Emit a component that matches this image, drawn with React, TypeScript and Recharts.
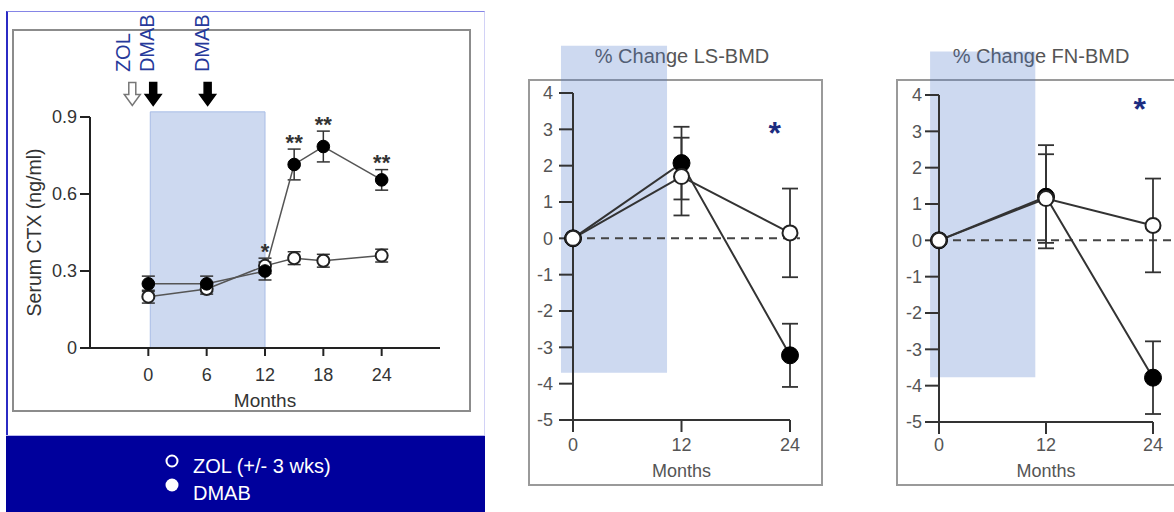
import React from 'react';
import {
  ComposedChart,
  Line,
  Scatter,
  XAxis,
  YAxis,
  ErrorBar,
  ReferenceArea,
  ReferenceLine,
  ReferenceDot,
  Legend,
  Label,
} from 'recharts';

const FONT = '"Liberation Sans", Arial, Helvetica, sans-serif';

// left panel: serum CTX (ng/ml) by month
const ctxMonths = [0, 6, 12, 15, 18, 24];
const ctxZol = [0.2, 0.23, 0.32, 0.35, 0.34, 0.36];
const ctxZolErr = [0.025, 0.02, 0.03, 0.025, 0.025, 0.025];
const ctxDmab = [0.25, 0.25, 0.3, 0.715, 0.785, 0.655];
const ctxDmabErr = [0.03, 0.03, 0.035, 0.06, 0.06, 0.04];
const ctxSig = ['', '', '*', '**', '**', '**'];
const ctxMonthTicks = [0, 6, 12, 18, 24];
const ctxValueTicks = [0, 0.3, 0.6, 0.9];

// dosing arrows above the left panel
const doseMonths = [-1.65, 0.5, 6.1];
const doseOpen = [true, false, false];
const doseLabels = ['ZOL', 'DMAB', 'DMAB'];
const doseLabelMonths = [-2.6, -0.2, 5.5];

const seriesNames = ['ZOL (+/- 3 wks)', 'DMAB'];

// right panels: % change in BMD
const bmdMonths = [0, 12, 24];
const bmdMonthTicks = [0, 12, 24];
const bmdValueTicks = [-5, -4, -3, -2, -1, 0, 1, 2, 3, 4];
const lsZol = [0, 1.7, 0.15];
const lsZolErr = [0, 1.07, 1.22];
const lsDmab = [0, 2.07, -3.22];
const lsDmabErr = [0, 1.0, 0.87];
const fnZol = [0, 1.15, 0.41];
const fnZolErr = [0, 1.22, 1.29];
const fnDmab = [0, 1.2, -3.78];
const fnDmabErr = [0, 1.42, 1.0];

const SHADE = '#4a78c8';

const DoseArrow = ({ cx, cy, open }: any) => (
  <path
    d={`M ${cx - 3.5} ${cy - 11.5} L ${cx + 3.5} ${cy - 11.5} L ${cx + 3.5} ${cy + 0.5} L ${cx + 8} ${cy + 0.5} L ${cx} ${cy + 11.5} L ${cx - 8} ${cy + 0.5} L ${cx - 3.5} ${cy + 0.5} Z`}
    fill={open ? '#fff' : '#000'}
    stroke={open ? '#777' : '#000'}
    strokeWidth={1.5}
  />
);

const DoseText = ({ cx, cy, text }: any) => (
  <text
    x={cx}
    y={cy}
    dy={0.36 * 20}
    transform={`rotate(-90 ${cx} ${cy})`}
    fontSize={20}
    fill="#26399a"
  >
    {text}
  </text>
);

const SigStar = (p: any) => {
  if (!p.payload || !p.payload.sig) return null;
  return (
    <text x={p.cx} y={p.cy} dy={12} textAnchor="middle" fontSize={22} fontWeight="bold" fill="#333">
      {p.payload.sig}
    </text>
  );
};

const renderCtxLegend = () => (
  <svg width={220} height={76}>
    <circle cx={12} cy={25} r={5.5} fill="none" stroke="#fff" strokeWidth={2} />
    <text x={33} y={37} fontSize={20} fill="#fff">{seriesNames[0]}</text>
    <circle cx={12} cy={49} r={6.5} fill="#fff" />
    <text x={33} y={64} fontSize={20} fill="#fff">{seriesNames[1]}</text>
  </svg>
);

function CtxChart() {
  const rows = ctxMonths.map((month, i) => {
    const top = Math.max(ctxZol[i] + ctxZolErr[i], ctxDmab[i] + ctxDmabErr[i]);
    return {
      month,
      zol: ctxZol[i],
      zolErr: ctxZolErr[i],
      dmab: ctxDmab[i],
      dmabErr: ctxDmabErr[i],
      sig: ctxSig[i],
      sigY: ctxSig[i] ? top + 0.045 : null,
    };
  });

  return (
    <ComposedChart width={490} height={512} data={rows} margin={{ top: 117, right: 50, bottom: 94, left: 30 }}>
      <ReferenceArea x1={0.2} x2={12} y1={0} y2={0.92} ifOverflow="visible" fill={SHADE} fillOpacity={0.28} stroke="#a8bce6" />
      <XAxis
        type="number"
        dataKey="month"
        domain={[-6, 30]}
        ticks={ctxMonthTicks}
        height={70}
        tickSize={8}
        tickMargin={12}
        axisLine={{ stroke: '#222', strokeWidth: 2 }}
        tickLine={{ stroke: '#222', strokeWidth: 2 }}
        tick={{ fill: '#333', fontSize: 18 }}
      >
        <Label value="Months" position="insideBottom" offset={11} fill="#333" fontSize={19} />
      </XAxis>
      <YAxis
        type="number"
        domain={[0, 0.9]}
        ticks={ctxValueTicks}
        width={60}
        tickSize={10}
        tickMargin={3}
        axisLine={{ stroke: '#222', strokeWidth: 2 }}
        tickLine={{ stroke: '#222', strokeWidth: 2 }}
        tick={{ fill: '#333', fontSize: 18 }}
      >
        <Label
          content={(props: any) => {
            const vb = props.viewBox;
            const cx = vb.x + 4;
            const cy = vb.y + vb.height / 2;
            return (
              <text x={cx} y={cy} dy={0.36 * 19} transform={`rotate(-90 ${cx} ${cy})`} textAnchor="middle" fontSize={19.5} fill="#333">
                Serum CTX (ng/ml)
              </text>
            );
          }}
        />
      </YAxis>
      <Line
        dataKey="zol"
        name={seriesNames[0]}
        stroke="#555"
        strokeWidth={1.5}
        dot={{ r: 6, fill: '#fff', stroke: '#222', strokeWidth: 2 }}
        activeDot={false}
        isAnimationActive={false}
      >
        <ErrorBar dataKey="zolErr" width={6.5} stroke="#333" strokeWidth={1.5} direction="y" />
      </Line>
      <Line
        dataKey="dmab"
        name={seriesNames[1]}
        stroke="#555"
        strokeWidth={1.5}
        dot={{ r: 6.3, fill: '#000', stroke: '#000', strokeWidth: 1 }}
        activeDot={false}
        isAnimationActive={false}
      >
        <ErrorBar dataKey="dmabErr" width={6.5} stroke="#333" strokeWidth={1.5} direction="y" />
      </Line>
      <Scatter dataKey="sigY" shape={SigStar} legendType="none" isAnimationActive={false} />
      {doseMonths.map((m, i) => (
        <ReferenceDot
          key={`arrow-${i}`}
          x={m}
          y={0.99}
          r={0}
          ifOverflow="visible"
          shape={(p: any) => <DoseArrow cx={p.cx} cy={p.cy} open={doseOpen[i]} />}
        />
      ))}
      {doseLabelMonths.map((m, i) => (
        <ReferenceDot
          key={`dose-${i}`}
          x={m}
          y={1.075}
          r={0}
          ifOverflow="visible"
          shape={(p: any) => <DoseText cx={p.cx} cy={p.cy} text={doseLabels[i]} />}
        />
      ))}
      <Legend
        layout="horizontal"
        verticalAlign="middle"
        align="center"
        content={renderCtxLegend}
        wrapperStyle={{ left: 160, top: 436, width: 220, height: 76 }}
      />
    </ComposedChart>
  );
}

type BmdProps = {
  left: number;
  width: number;
  title: string;
  titleCenter: number;
  frameLeft: number;
  frameWidth: number;
  zol: number[];
  zolErr: number[];
  dmab: number[];
  dmabErr: number[];
  margin: { top: number; right: number; bottom: number; left: number };
  xTickMargin: number;
  yTickMargin: number;
  labelOffset: number;
  shade: number[];
  star: number[];
  zeroEnd: number;
};

function BmdPanel(props: BmdProps) {
  const rows = bmdMonths.map((month, i) => ({
    month,
    zol: props.zol[i],
    zolErr: props.zolErr[i] || null,
    dmab: props.dmab[i],
    dmabErr: props.dmabErr[i] || null,
  }));
  const axisStyle = { stroke: '#333', strokeWidth: 2 };

  return (
    <>
      <div
        style={{
          position: 'absolute',
          left: props.titleCenter - 150,
          width: 300,
          top: 44,
          lineHeight: '24px',
          fontSize: 20,
          color: '#555',
          textAlign: 'center',
        }}
      >
        {props.title}
      </div>
      <div
        style={{
          position: 'absolute',
          left: props.frameLeft,
          top: 79,
          width: props.frameWidth,
          height: 407,
          boxSizing: 'border-box',
          border: '2px solid #9a9a9a',
        }}
      />
      <div style={{ position: 'absolute', left: props.left, top: 0 }}>
        <ComposedChart width={props.width} height={512} data={rows} margin={props.margin}>
          <ReferenceArea
            x1={props.shade[0]}
            x2={props.shade[1]}
            y1={props.shade[2]}
            y2={props.shade[3]}
            ifOverflow="visible"
            fill={SHADE}
            fillOpacity={0.28}
            stroke="none"
          />
          <XAxis
            type="number"
            dataKey="month"
            domain={[0, 24]}
            ticks={bmdMonthTicks}
            height={60}
            tickSize={12}
            tickMargin={props.xTickMargin}
            axisLine={axisStyle}
            tickLine={axisStyle}
            tick={{ fill: '#555', fontSize: 18 }}
          >
            <Label value="Months" position="insideBottom" offset={props.labelOffset} fill="#555" fontSize={18} />
          </XAxis>
          <YAxis
            type="number"
            domain={[-5, 4]}
            ticks={bmdValueTicks}
            width={40}
            tickSize={14}
            tickMargin={props.yTickMargin}
            axisLine={axisStyle}
            tickLine={axisStyle}
            tick={{ fill: '#555', fontSize: 18 }}
          />
          <ReferenceLine
            segment={[
              { x: 0, y: 0 },
              { x: props.zeroEnd, y: 0 },
            ]}
            ifOverflow="visible"
            stroke="#444"
            strokeWidth={2}
            strokeDasharray="8 6"
          />
          <Line
            dataKey="dmab"
            stroke="#333"
            strokeWidth={2}
            dot={{ r: 8.5, fill: '#000', stroke: '#000', strokeWidth: 1 }}
            activeDot={false}
            isAnimationActive={false}
          >
            <ErrorBar dataKey="dmabErr" width={8} stroke="#333" strokeWidth={1.8} direction="y" />
          </Line>
          <Line
            dataKey="zol"
            stroke="#333"
            strokeWidth={2}
            dot={{ r: 7.5, fill: '#fff', stroke: '#222', strokeWidth: 2 }}
            activeDot={false}
            isAnimationActive={false}
          >
            <ErrorBar dataKey="zolErr" width={8} stroke="#333" strokeWidth={1.8} direction="y" />
          </Line>
          <ReferenceDot
            x={props.star[0]}
            y={props.star[1]}
            r={0}
            ifOverflow="visible"
            shape={(p: any) => (
              <text x={p.cx} y={p.cy} dy={18} textAnchor="middle" fontSize={32} fontWeight="bold" fill="#1c2c80">
                *
              </text>
            )}
          />
        </ComposedChart>
      </div>
    </>
  );
}

export default function App() {
  return (
    <div
      style={{
        position: 'fixed',
        left: 0,
        top: 0,
        width: 1174,
        height: 512,
        overflow: 'hidden',
        background: '#fff',
        fontFamily: FONT,
      }}
    >
      <div
        style={{
          position: 'absolute',
          left: 6,
          top: 11,
          width: 479,
          height: 425,
          boxSizing: 'border-box',
          borderLeft: '2px solid #2b2bc4',
          borderTop: '1px solid #8585e6',
          borderRight: '1px solid #d2d2f6',
        }}
      />
      <div
        style={{
          position: 'absolute',
          left: 6,
          top: 435,
          width: 479,
          height: 77,
          boxSizing: 'border-box',
          background: '#00009c',
          borderTop: '1px solid #b9b9ee',
        }}
      />
      <div
        style={{
          position: 'absolute',
          left: 12,
          top: 29,
          width: 459,
          height: 383,
          boxSizing: 'border-box',
          border: '2px solid #8c8c8c',
        }}
      />
      <div style={{ position: 'absolute', left: 0, top: 0 }}>
        <CtxChart />
      </div>

      <BmdPanel
        left={500}
        width={340}
        title="% Change LS-BMD"
        titleCenter={682}
        frameLeft={528}
        frameWidth={295}
        zol={lsZol}
        zolErr={lsZolErr}
        dmab={lsDmab}
        dmabErr={lsDmabErr}
        margin={{ top: 93, right: 50, bottom: 32, left: 33 }}
        xTickMargin={6}
        yTickMargin={6}
        labelOffset={3}
        shade={[-1.33, 10.4, -3.7, 5.3]}
        star={[22.3, 3.1]}
        zeroEnd={25.1}
      />
      <BmdPanel
        left={860}
        width={314}
        title="% Change FN-BMD"
        titleCenter={1041}
        frameLeft={896}
        frameWidth={300}
        zol={fnZol}
        zolErr={fnZolErr}
        dmab={fnDmab}
        dmabErr={fnDmabErr}
        margin={{ top: 95, right: 21, bottom: 30, left: 39 }}
        xTickMargin={4}
        yTickMargin={3}
        labelOffset={5}
        shade={[-1.0, 10.8, -3.77, 5.2]}
        star={[22.5, 3.81]}
        zeroEnd={27}
      />
    </div>
  );
}
